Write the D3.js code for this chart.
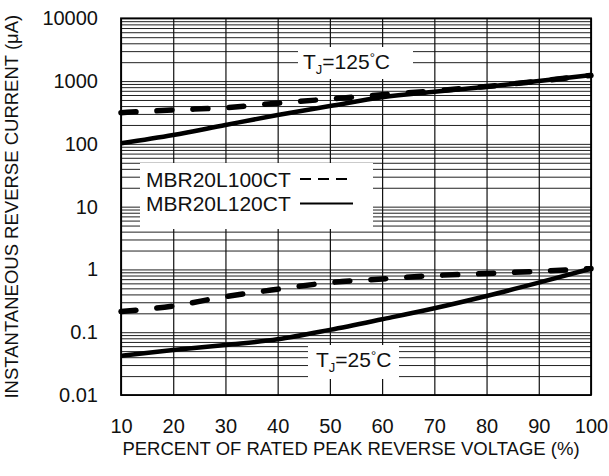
<!DOCTYPE html>
<html>
<head>
<meta charset="utf-8">
<script src="https://cdn.jsdelivr.net/npm/d3@7"></script>
<style>
  body { margin: 0; background: #fff; }
  svg { font-family: "Liberation Sans", Arial, sans-serif; }
</style>
</head>
<body>
<svg id="chart"></svg>
<script>
// percent of rated peak reverse voltage
let voltage = [10, 20, 30, 40, 50, 60, 70, 80, 90, 100];

// reverse current in uA
let mbr100_125 = [314, 347, 377, 444, 519, 605, 700, 820, 1000, 1230];
let mbr120_125 = [102, 138, 200, 288, 400, 552, 678, 815, 1000, 1250];
let mbr100_25 = [0.213, 0.262, 0.369, 0.484, 0.617, 0.706, 0.80, 0.86, 0.935, 1.03];
let mbr120_25 = [0.042, 0.052, 0.0628, 0.077, 0.109, 0.161, 0.241, 0.378, 0.617, 1.03];

let xTicks = [10, 20, 30, 40, 50, 60, 70, 80, 90, 100];
let yTicks = [0.01, 0.1, 1, 10, 100, 1000, 10000];
let yTickLabels = ["0.01", "0.1", "1", "10", "100", "1000", "10000"];

let width = 609;
let height = 476;
let plotLeft = 121, plotRight = 591, plotTop = 18.3, plotBottom = 395;

let chart = d3.select("#chart").attr("width", width).attr("height", height);

let xscale = d3.scaleLinear().domain([10, 100]).range([plotLeft, plotRight]);
let yscale = d3.scaleLog().domain([0.01, 10000]).range([plotBottom, plotTop]);

// grid: horizontal minor lines at every 1..9 step, vertical at every 10%
let grid = chart.append("g");
grid.append("g")
    .attr("transform", "translate(" + plotLeft + ",0)")
    .call(d3.axisLeft(yscale).tickValues(yscale.ticks()).tickSize(-(plotRight - plotLeft)).tickFormat(""))
    .call(g => g.select(".domain").remove())
    .selectAll("line").attr("stroke", "#222").attr("stroke-width", 1);
grid.append("g")
    .attr("transform", "translate(0," + plotBottom + ")")
    .call(d3.axisBottom(xscale).tickValues(xTicks).tickSize(-(plotBottom - plotTop)).tickFormat(""))
    .call(g => g.select(".domain").remove())
    .selectAll("line").attr("stroke", "#111").attr("stroke-width", 1.2);

// white label boxes covering the grid
let boxes = [
    {x0: 298, x1: 413, y0: 47, y1: 79},
    {x0: 140, x1: 373, y0: 163, y1: 229},
    {x0: 308, x1: 399, y0: 345, y1: 379}
];
chart.selectAll("rect.box").data(boxes).enter().append("rect")
    .attr("class", "box")
    .attr("x", d => d.x0).attr("y", d => d.y0)
    .attr("width", d => d.x1 - d.x0).attr("height", d => d.y1 - d.y0)
    .attr("fill", "#fff");

// curves
let line = d3.line()
    .x((d, i) => xscale(voltage[i]))
    .y(d => yscale(d))
    .curve(d3.curveMonotoneX);

let series = [
    {values: mbr120_125, dash: null},
    {values: mbr120_25, dash: null},
    {values: mbr100_125, dash: "15 21"},
    {values: mbr100_25, dash: "15 21"}
];
chart.selectAll("path.curve").data(series).enter().append("path")
    .attr("class", "curve")
    .attr("d", d => line(d.values))
    .attr("fill", "none")
    .attr("stroke", "#000")
    .attr("stroke-width", d => d.dash ? 5.5 : 4.5)
    .attr("stroke-linecap", d => d.dash ? "round" : "butt")
    .attr("stroke-dasharray", d => d.dash);

// frame
chart.append("rect")
    .attr("x", plotLeft).attr("y", plotTop)
    .attr("width", plotRight - plotLeft).attr("height", plotBottom - plotTop)
    .attr("fill", "none").attr("stroke", "#000").attr("stroke-width", 1.8);

// axes labels
chart.append("g")
    .attr("transform", "translate(0," + plotBottom + ")")
    .call(d3.axisBottom(xscale).tickValues(xTicks).tickSize(0).tickPadding(24))
    .call(g => g.select(".domain").remove())
    .selectAll("text").attr("font-size", 20).attr("fill", "#111")
    .attr("font-family", "Liberation Sans, Arial, sans-serif");

chart.append("g")
    .attr("transform", "translate(" + plotLeft + ",0)")
    .call(d3.axisLeft(yscale).tickValues(yTicks).tickSize(0).tickPadding(23)
        .tickFormat((d, i) => yTickLabels[i]))
    .call(g => g.select(".domain").remove())
    .selectAll("text").attr("font-size", 20).attr("fill", "#111")
    .attr("font-family", "Liberation Sans, Arial, sans-serif");

chart.append("text")
    .attr("x", (plotLeft + plotRight) / 2 - 5).attr("y", 455)
    .attr("text-anchor", "middle")
    .attr("font-size", 18.5).attr("fill", "#111")
    .text("PERCENT OF RATED PEAK REVERSE VOLTAGE (%)");

chart.append("text")
    .attr("transform", "translate(18," + ((plotTop + plotBottom) / 2) + ") rotate(-90)")
    .attr("text-anchor", "middle")
    .attr("font-size", 18.5).attr("fill", "#111")
    .text("INSTANTANEOUS REVERSE CURRENT (\u03BCA)");

// temperature labels
let tjLabels = [
    {x: 303, y: 69, temp: "125"},
    {x: 316, y: 367, temp: "25"}
];
tjLabels.forEach(function (d) {
    let t = chart.append("text")
        .attr("x", d.x).attr("y", d.y)
        .attr("font-size", 21).attr("fill", "#111");
    t.append("tspan").text("T");
    t.append("tspan").attr("font-size", 13).attr("dy", 5).text("J");
    t.append("tspan").attr("dy", -5).text("=" + d.temp);
    t.append("tspan").attr("font-size", 13).attr("dy", -7).text("\u00B0");
    t.append("tspan").attr("dy", 7).text("C");
});

// legend
let legendItems = [
    {name: "MBR20L100CT", dash: "11 7", y: 186.5},
    {name: "MBR20L120CT", dash: null, y: 211}
];
legendItems.forEach(function (d) {
    chart.append("text")
        .attr("x", 146).attr("y", d.y)
        .attr("font-size", 21).attr("fill", "#111")
        .text(d.name);
    chart.append("line")
        .attr("x1", 300).attr("x2", 353)
        .attr("y1", d.y - 7.5).attr("y2", d.y - 7.5)
        .attr("stroke", "#000").attr("stroke-width", 2)
        .attr("stroke-dasharray", d.dash);
});
</script>
</body>
</html>
